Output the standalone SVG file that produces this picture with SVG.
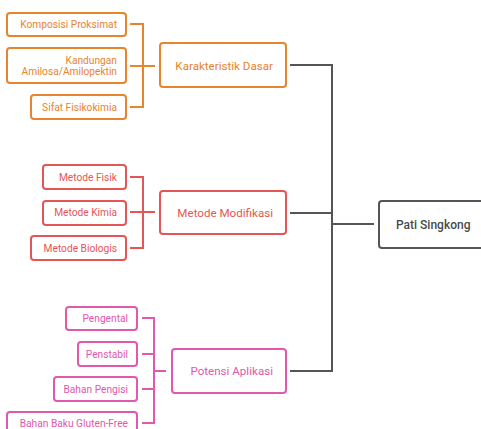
<svg xmlns="http://www.w3.org/2000/svg" width="481" height="429" viewBox="0 0 481 429">
<style>
rect{fill:#fff;stroke-width:2}
.o rect{stroke:#e8842c}.o text{fill:#e8842c}
.r rect{stroke:#e45656}.r text{fill:#e45656}
.p rect{stroke:#e158ad}.p text{fill:#e158ad}
.k rect{stroke:#555}.k text{fill:#4a4a4a;font-weight:500}
text{font-family:Roboto,"Liberation Sans",sans-serif;dominant-baseline:central}
.s{font-size:10.2px;text-anchor:end}
.m{font-size:11.6px;text-anchor:end}
.c path{fill:none;stroke-width:2}
</style>
<rect width="481" height="429" fill="#fff" stroke="none"/>
<g id="connectors" class="c">
<path stroke="#e8842c" d="M130 24H143V107H130M130 66H155"/>
<path stroke="#e45656" d="M130 177H143V248H130M130 212H155"/>
<path stroke="#e158ad" d="M142 318H154V423H142M142 354H154M142 389H154M154 371H166"/>
<path stroke="#555" d="M290 65H332V371H290M290 213H332M332 224H374"/>
</g>
<g id="n-komposisi" class="o"><rect x="7" y="13" width="119" height="23" rx="3"/><text class="s" x="117" y="24.5">Komposisi Proksimat</text></g>
<g id="n-kandungan" class="o"><rect x="7" y="48" width="119" height="35" rx="3"/><text class="s" x="117" y="60">Kandungan</text><text class="s" x="117" y="71.5">Amilosa/Amilopektin</text></g>
<g id="n-sifat" class="o"><rect x="31" y="95" width="95" height="24" rx="3"/><text class="s" x="117" y="107">Sifat Fisikokimia</text></g>
<g id="n-karakteristik" class="o"><rect x="160" y="43" width="126" height="44" rx="3"/><text class="m" x="273" y="65.5">Karakteristik Dasar</text></g>
<g id="n-fisik" class="r"><rect x="43" y="165" width="83" height="24" rx="3"/><text class="s" x="117" y="177">Metode Fisik</text></g>
<g id="n-kimia" class="r"><rect x="43" y="201" width="83" height="24" rx="3"/><text class="s" x="117" y="212.5">Metode Kimia</text></g>
<g id="n-biologis" class="r"><rect x="31" y="236" width="95" height="24" rx="3"/><text class="s" x="117" y="248">Metode Biologis</text></g>
<g id="n-modifikasi" class="r"><rect x="160" y="191" width="126" height="43" rx="3"/><text class="m" x="273" y="212.5">Metode Modifikasi</text></g>
<g id="n-pengental" class="p"><rect x="66" y="307" width="71" height="23" rx="3"/><text class="s" x="128" y="318.5">Pengental</text></g>
<g id="n-penstabil" class="p"><rect x="78" y="342" width="59" height="24" rx="3"/><text class="s" x="128" y="354">Penstabil</text></g>
<g id="n-pengisi" class="p"><rect x="54" y="377" width="83" height="24" rx="3"/><text class="s" x="128" y="389">Bahan Pengisi</text></g>
<g id="n-gluten" class="p"><rect x="7" y="412" width="130" height="24" rx="3"/><text class="s" x="128" y="423.5">Bahan Baku Gluten-Free</text></g>
<g id="n-potensi" class="p"><rect x="172" y="349" width="114" height="44" rx="3"/><text class="m" x="273" y="371">Potensi Aplikasi</text></g>
<g id="n-pati" class="k"><rect x="379" y="201" width="110" height="47" rx="3"/><text x="396" y="224.5" font-size="12">Pati Singkong</text></g>
</svg>
